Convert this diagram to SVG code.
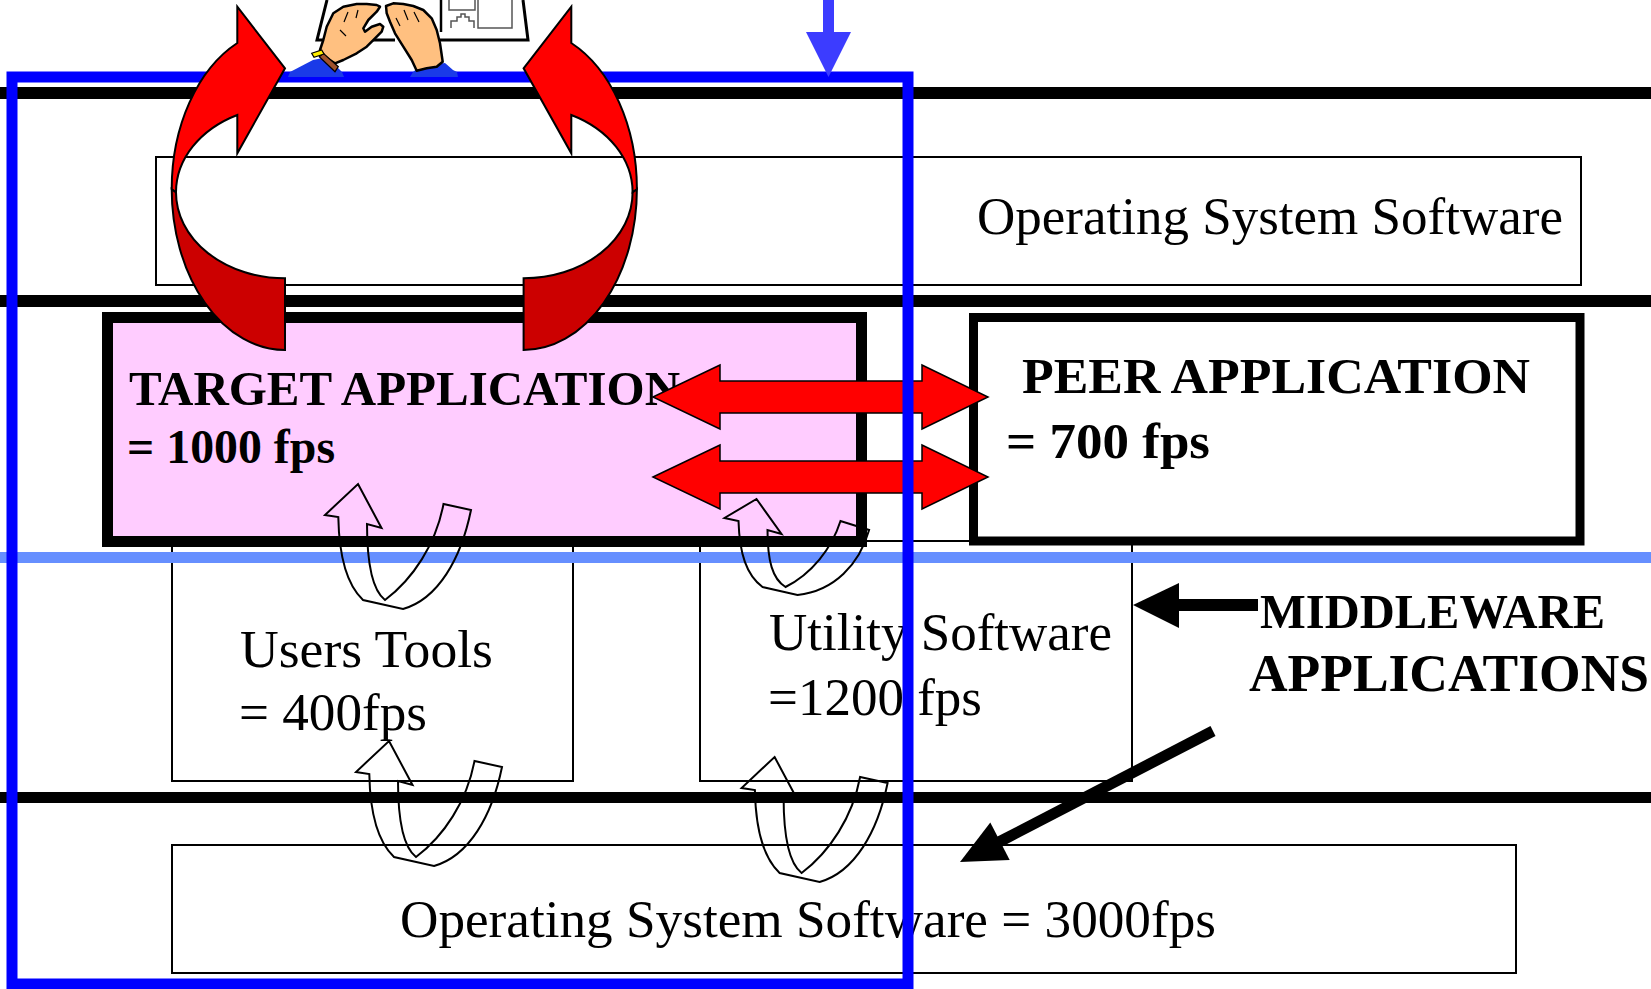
<svg xmlns="http://www.w3.org/2000/svg" xmlns:xlink="http://www.w3.org/1999/xlink" width="1651" height="989" viewBox="0 0 1651 989">
  <style>
    .serif { font-family: 'Liberation Serif', 'Times New Roman', serif; fill: #000; }
    .bold { font-weight: bold; }
    .thinbox { fill: #fff; stroke: #000; stroke-width: 2; }
    .band { fill: #000; }
    .uturn { fill: none; stroke: #000; stroke-width: 2; stroke-linejoin: miter; }
    .redarrow { fill: #ff0000; stroke: #000; stroke-width: 1.5; stroke-linejoin: miter; }
    .curl-front { fill: #ff0000; stroke: #000; stroke-width: 2; }
    .curl-back { fill: #cc0000; stroke: #000; stroke-width: 2; }
    .skin { fill: #ffc080; stroke: #000; stroke-width: 2.5; stroke-linejoin: round; }
  </style>
  <defs>
    <!-- folded U-turn arrow, tip at the origin -->
    <path id="uturn" d="M 0,0 L 23.5,44 L 9,40 C 9,80 14,106 27,116 C 55,95 78,60 85.5,20 L 113,26 C 103,75 80,115 45,125 L 5,116 C -12,100 -19,70 -19.7,33 L -33,31 Z"/>
    <!-- twisted curved red arrow (left-hand version) -->
    <g id="curl">
      <path class="curl-back" d="M 171.7,189 A 113.3,161 0 0 0 285,350 L 285,278.3 A 109,86 0 0 1 176,192.3 Z"/>
      <path class="curl-front" d="M 237.3,43 A 113.3,161 0 0 0 171.7,189 L 176,192.3 A 109,86 0 0 1 237.3,115 L 237.3,153.3 L 285,68.3 L 237.3,6.7 Z"/>
    </g>
  </defs>

  <rect x="0" y="0" width="1651" height="989" fill="#fff"/>

  <!-- layer separators -->
  <g id="separators">
    <rect class="band" x="0" y="87" width="1651" height="12"/>
    <rect class="band" x="0" y="295" width="1651" height="12"/>
    <rect class="band" x="0" y="792" width="1651" height="11"/>
  </g>

  <!-- upper operating system layer -->
  <g id="os-top">
    <rect class="thinbox" x="156" y="157" width="1425" height="128"/>
    <text class="serif" x="977" y="234" font-size="53" textLength="586" lengthAdjust="spacingAndGlyphs">Operating System Software</text>
  </g>

  <!-- middleware boxes -->
  <g id="users-tools">
    <rect class="thinbox" x="172" y="541" width="401" height="240"/>
    <text class="serif" x="240" y="667" font-size="53" textLength="253" lengthAdjust="spacingAndGlyphs">Users Tools</text>
    <text class="serif" x="239" y="730" font-size="53" textLength="188" lengthAdjust="spacingAndGlyphs">= 400fps</text>
  </g>
  <g id="utility-software">
    <rect class="thinbox" x="700" y="541" width="432" height="240"/>
    <text class="serif" x="769" y="650" font-size="53" textLength="343" lengthAdjust="spacingAndGlyphs">Utility Software</text>
    <text class="serif" x="768" y="715" font-size="53" textLength="214" lengthAdjust="spacingAndGlyphs">=1200 fps</text>
  </g>

  <!-- application layer -->
  <g id="target-application">
    <rect x="107.5" y="317.5" width="754" height="224" fill="#ffccff" stroke="#000" stroke-width="11"/>
    <text class="serif bold" x="129" y="405" font-size="48" textLength="551" lengthAdjust="spacingAndGlyphs">TARGET APPLICATION</text>
    <text class="serif bold" x="127" y="463" font-size="48" textLength="208" lengthAdjust="spacingAndGlyphs">= 1000 fps</text>
  </g>
  <g id="peer-application">
    <rect x="973.5" y="317.5" width="606.5" height="223.5" fill="#fff" stroke="#000" stroke-width="9"/>
    <text class="serif bold" x="1022" y="393" font-size="51" textLength="508" lengthAdjust="spacingAndGlyphs">PEER APPLICATION</text>
    <text class="serif bold" x="1006" y="458" font-size="51" textLength="204" lengthAdjust="spacingAndGlyphs">= 700 fps</text>
  </g>

  <!-- boundary between application and middleware -->
  <rect id="app-boundary" x="0" y="552" width="1651" height="11" fill="#668fff"/>

  <!-- lower operating system layer -->
  <g id="os-bottom">
    <rect class="thinbox" x="172" y="845" width="1344" height="128"/>
    <text class="serif" x="400" y="937" font-size="53" textLength="816" lengthAdjust="spacingAndGlyphs">Operating System Software = 3000fps</text>
  </g>

  <!-- legend label -->
  <g id="middleware-label">
    <text class="serif bold" x="1260" y="628" font-size="48" textLength="345" lengthAdjust="spacingAndGlyphs">MIDDLEWARE</text>
    <text class="serif bold" x="1249" y="691" font-size="53" textLength="400" lengthAdjust="spacingAndGlyphs">APPLICATIONS</text>
  </g>

  <!-- connectors -->
  <g id="connectors">
    <!-- request/response turns between layers -->
    <use xlink:href="#uturn" href="#uturn" class="uturn" transform="translate(358,484)"/>
    <path class="uturn" transform="translate(756.5,499)" d="M 0,0 L 25,35 L 11,31 C 11,62 16,80 29,88 C 55,75 75,50 84,22 L 112.6,31 C 103,65 78,92 41,96 L 6,88 C -10,76 -17,55 -18,22 L -32,19 Z"/>
    <use xlink:href="#uturn" href="#uturn" class="uturn" transform="translate(389,741)"/>
    <use xlink:href="#uturn" href="#uturn" class="uturn" transform="translate(774.6,757)"/>

    <!-- peer-to-peer exchange -->
    <polygon class="redarrow" points="653,397 720,365 720,381 922,381 922,365 988,397 922,429 922,413 720,413 720,429"/>
    <polygon class="redarrow" points="653,477 720,445 720,461 922,461 922,445 988,477 922,509 922,493 720,493 720,509"/>

    <!-- label pointers -->
    <rect x="1178" y="599" width="80" height="12" fill="#000"/>
    <polygon points="1133,605 1179,583 1179,628" fill="#000"/>
    <line x1="1213" y1="731" x2="998" y2="842.5" stroke="#000" stroke-width="11"/>
    <polygon points="960,862 990.3,822.6 1009.7,860" fill="#000"/>
  </g>

  <!-- scope frame -->
  <g id="scope-frame">
    <rect x="12" y="77" width="896" height="907" fill="none" stroke="#0000ff" stroke-width="11"/>
    <rect x="823" y="0" width="11" height="33" fill="#3c3cff"/>
    <polygon points="806,32 851,32 828.5,77" fill="#3c3cff"/>
  </g>

  <!-- user at the keyboard -->
  <g id="user">
    <path d="M 327,0 L 317,40 L 395,40" fill="#fff" stroke="#000" stroke-width="3"/>
    <path d="M 400,40 L 528,40 L 523,0" fill="#fff" stroke="#000" stroke-width="3"/>
    <path d="M 441,0 V 32" fill="none" stroke="#000" stroke-width="2.5"/>
    <rect x="449" y="-2" width="26" height="12" fill="none" stroke="#555" stroke-width="1.5"/>
    <rect x="478" y="-2" width="34" height="30" fill="none" stroke="#555" stroke-width="1.5"/>
    <path d="M 451,28 V 21 H 457 V 17 H 461 V 14 H 465 V 17 H 469 V 21 H 474 V 28" fill="none" stroke="#555" stroke-width="1.5"/>
    <polygon points="288,77 290,72 313,60 323,58 338,68 342,72 344,77" fill="#1a3ae8"/>
    <polygon points="410,77 413,72 418,68 437,64 445,63 453,70 457,72 458,77" fill="#1a3ae8"/>
    <path class="skin" d="M 320,50 L 323.3,40 L 326.7,26.7 L 333.3,13.3 L 343.3,6.7 L 356.7,4 L 366.7,4 L 376.7,5 L 380,6.7 L 376.7,11.7 L 368.3,20 L 363.3,28.3 L 365,31.7 L 371.7,26.7 L 380,24 L 383.3,26.7 L 381.7,31.7 L 375,38.3 L 366.7,46.7 L 356.7,53.3 L 343.3,60 L 335,63.3 L 326.7,58.3 L 320,53.3 Z"/>
    <path d="M 348,12 L 344,22 M 358,10 L 356,18 M 340,30 L 346,36" fill="none" stroke="#000" stroke-width="1.2"/>
    <path class="skin" d="M 386,6 L 393.3,3.3 L 403.3,4 L 413.3,6 L 423.3,10 L 431.7,18.3 L 436.7,30 L 440,43.3 L 442.7,61.7 L 436.7,66.7 L 426.7,68.3 L 416.7,70.7 L 411.7,60 L 403.3,46.7 L 395,33.3 L 390,21.7 L 386.7,13.3 Z"/>
    <path d="M 404,10 L 408,20 M 414,12 L 419,22 M 396,18 L 400,26" fill="none" stroke="#000" stroke-width="1.2"/>
    <polygon points="319.3,56.7 323.3,53.3 338.3,66.7 335,71.7" fill="#a0522d" stroke="#000" stroke-width="1.2"/>
    <polygon points="311.7,53.3 321.7,50 324,54 314,57.3" fill="#ffee00" stroke="#000" stroke-width="1.2"/>
  </g>

  <!-- interaction loops between user and target application -->
  <g id="interaction-loops">
    <use xlink:href="#curl" href="#curl"/>
    <use xlink:href="#curl" href="#curl" transform="translate(808.6,0) scale(-1,1)"/>
  </g>
</svg>
